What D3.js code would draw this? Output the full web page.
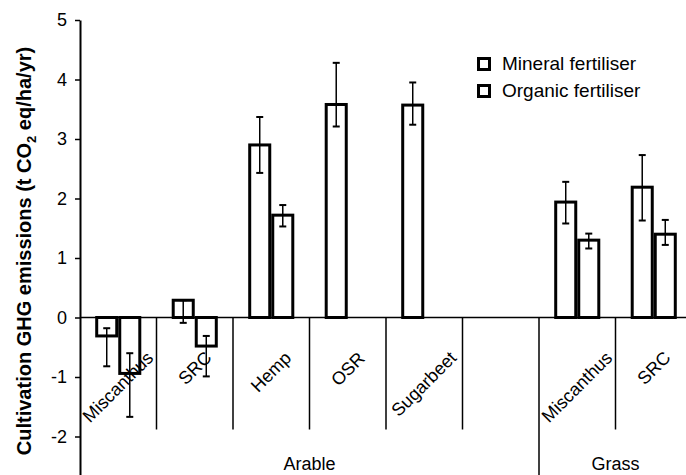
<!DOCTYPE html>
<html>
<head>
<meta charset="utf-8">
<script src="https://cdn.jsdelivr.net/npm/d3@7/dist/d3.min.js"></script>
<style>
  html, body { margin: 0; padding: 0; background: #fff; }
  #wrap { position: relative; width: 686px; height: 475px; overflow: hidden; }
  svg { display: block; font-family: "Liberation Sans", Arial, sans-serif; }
  .cat-label {
    position: absolute;
    font-family: "Liberation Sans", Arial, sans-serif;
    font-size: 18px;
    line-height: 18px;
    white-space: nowrap;
    color: #000;
    transform: translate(-50%, -50%) rotate(-45deg);
  }
</style>
</head>
<body>
<div id="wrap"><svg id="chart" width="686" height="475"></svg></div>
<script>
// Crop categories (one empty slot separates the Arable block from Grass)
const categories = ["Miscanthus", "SRC", "Hemp", "OSR", "Sugarbeet", "", "Miscanthus", "SRC"];
const groups = ["Arable", "Arable", "Arable", "Arable", "Arable", "Arable", "Grass", "Grass"];
const seriesNames = ["Mineral fertiliser", "Organic fertiliser"];

// Cultivation GHG emissions, t CO2 eq/ha/yr
const mineral   = [-0.31, 0.29, 2.90, 3.58, 3.57, null, 1.94, 2.19];
const organic   = [-0.94, -0.48, 1.72, 0, 0, null, 1.30, 1.40];
// Error bar limits
const mineralHi = [-0.18, 0.29, 3.37, 4.28, 3.95, null, 2.28, 2.73];
const mineralLo = [-0.82, -0.09, 2.43, 3.21, 3.24, null, 1.58, 1.63];
const organicHi = [-0.60, -0.31, 1.89, null, null, null, 1.41, 1.64];
const organicLo = [-1.67, -0.99, 1.53, null, null, null, 1.16, 1.22];

const yTicks = [-2, -1, 0, 1, 2, 3, 4, 5];

(function draw() {
  const svg = d3.select("#chart");
  const plotLeft = 80, plotRight = 692, plotTop = 20;

  const x0 = d3.scaleBand()
    .domain(d3.range(categories.length))
    .range([plotLeft, plotRight])
    .padding(0);

  const x1 = d3.scaleBand()
    .domain(seriesNames)
    .range([0, x0.bandwidth()])
    .paddingInner(0)
    .paddingOuter(0.66);

  const y = d3.scaleLinear().domain([-3, 5]).range([plotTop + 8 * 59.5, plotTop]);

  // Bars
  const rows = categories.map((c, i) => ({
    i,
    vals: [
      { s: seriesNames[0], v: mineral[i], hi: mineralHi[i], lo: mineralLo[i] },
      { s: seriesNames[1], v: organic[i], hi: organicHi[i], lo: organicLo[i] }
    ]
  }));

  const cat = svg.append("g").selectAll("g")
    .data(rows)
    .join("g")
    .attr("transform", d => `translate(${x0(d.i)},0)`);

  cat.selectAll("rect")
    .data(d => d.vals.filter(v => v.v !== null))
    .join("rect")
    .attr("x", d => x1(d.s) + 1.5)
    .attr("width", x1.bandwidth() - 3)
    .attr("y", d => y(Math.max(0, d.v)))
    .attr("height", d => Math.abs(y(d.v) - y(0)))
    .attr("fill", "#fff")
    .attr("stroke", "#000")
    .attr("stroke-width", 3);

  // Error bars
  const eb = cat.selectAll("g.err")
    .data(d => d.vals.filter(v => v.hi !== null && v.lo !== null))
    .join("g")
    .attr("class", "err")
    .attr("stroke", "#000")
    .attr("stroke-width", 1.5);

  const cx = d => x1(d.s) + x1.bandwidth() / 2;
  eb.append("line")
    .attr("x1", cx).attr("x2", cx)
    .attr("y1", d => y(d.hi)).attr("y2", d => y(d.lo));
  eb.append("line")
    .attr("x1", d => cx(d) - 3.5).attr("x2", d => cx(d) + 3.5)
    .attr("y1", d => y(d.hi)).attr("y2", d => y(d.hi))
    .attr("stroke-width", 2);
  eb.append("line")
    .attr("x1", d => cx(d) - 3.5).attr("x2", d => cx(d) + 3.5)
    .attr("y1", d => y(d.lo)).attr("y2", d => y(d.lo))
    .attr("stroke-width", 2);

  // Zero line (category axis)
  svg.append("line")
    .attr("x1", plotLeft).attr("x2", 686)
    .attr("y1", y(0)).attr("y2", y(0))
    .attr("stroke", "#000").attr("stroke-width", 1.5);

  // Category and group separators
  const groupBreak = groups.map((g, i) => i > 0 && g !== groups[i - 1]);
  svg.append("g").selectAll("line")
    .data(d3.range(1, categories.length))
    .join("line")
    .attr("x1", i => x0(i)).attr("x2", i => x0(i))
    .attr("y1", y(0))
    .attr("y2", i => groupBreak[i] ? 475 : y(0) + 112)
    .attr("stroke", "#000").attr("stroke-width", 1.5);

  // Y axis
  const yAxis = svg.append("g")
    .attr("transform", `translate(${plotLeft},0)`)
    .call(d3.axisLeft(y).tickValues(yTicks).tickFormat(d => String(d))
      .tickSizeInner(5).tickSizeOuter(0).tickPadding(8));
  yAxis.select(".domain").attr("stroke-width", 2);
  yAxis.selectAll(".tick line").attr("stroke-width", 1.5);
  yAxis.selectAll("text")
    .attr("font-size", 18)
    .attr("font-family", "Liberation Sans, Arial, sans-serif")
    .attr("fill", "#000");

  // Slanted category labels (HTML overlay): centred on each band, with the
  // top of the slanted text box just under the zero line
  const labelSize = 18, glyphH = 0.95 * labelSize;
  const c45 = Math.SQRT1_2;
  const labelTop = 349;
  const labelData = rows.filter(r => categories[r.i] !== "");
  const labels = d3.select("#wrap").selectAll("div.cat-label")
    .data(labelData)
    .join("div")
    .attr("class", "cat-label")
    .text(d => categories[d.i]);

  labels.each(function (d) {
    const len = this.offsetWidth;
    const bxC = x0(d.i) + x0.bandwidth() / 2;
    const byC = labelTop + (len + glyphH) * c45 / 2;
    d3.select(this).style("left", bxC + "px").style("top", byC + "px");
  });

  // Group labels
  const groupNames = Array.from(new Set(groups));
  svg.append("g").selectAll("text")
    .data(groupNames)
    .join("text")
    .attr("x", g => {
      const idx = d3.range(groups.length).filter(i => groups[i] === g);
      return (x0(idx[0]) + x0(idx[idx.length - 1]) + x0.bandwidth()) / 2;
    })
    .attr("y", 470)
    .attr("text-anchor", "middle")
    .attr("font-size", 18)
    .text(g => g);

  // Y axis title
  const title = svg.append("text")
    .attr("transform", "translate(31,251) rotate(-90)")
    .attr("text-anchor", "middle")
    .attr("font-size", 20)
    .attr("font-weight", "bold");
  title.append("tspan").text("Cultivation GHG emissions (t CO");
  title.append("tspan").attr("font-size", 13).attr("dy", 5).text("2");
  title.append("tspan").attr("dy", -5).text(" eq/ha/yr)");

  // Legend
  const legend = svg.append("g").attr("transform", "translate(478,58)");
  const li = legend.selectAll("g")
    .data(seriesNames)
    .join("g")
    .attr("transform", (d, i) => `translate(0,${i * 27})`);
  li.append("rect")
    .attr("x", 0.5).attr("y", 0.5)
    .attr("width", 11).attr("height", 11)
    .attr("fill", "#fff").attr("stroke", "#000").attr("stroke-width", 3);
  li.append("text")
    .attr("x", 24).attr("y", 11.5)
    .attr("font-size", 19)
    .text(d => d);
})();
</script>
</body>
</html>
